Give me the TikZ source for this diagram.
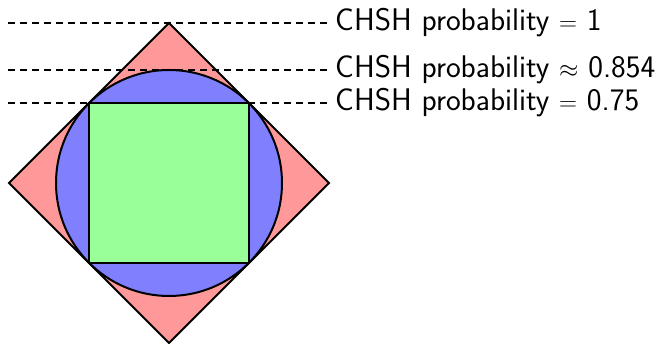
\documentclass[tikz,border=0pt]{standalone}
\begin{document}
\begin{tikzpicture}[x=1pt,y=1pt,
  shape outline/.style={draw=black,line width=2pt,line join=miter},
  guide/.style={draw=black,line width=2pt,dash pattern=on 6.5pt off 5.5pt},
  lbl/.style={anchor=west,inner sep=4pt,font=\fontsize{31.3}{36}\selectfont\sffamily}]
\useasboundingbox (0,0) rectangle (662,344);
\coordinate (c) at (169,161);
\filldraw[shape outline,fill=red!40] (169,321) -- (329,161) -- (169,1) -- (9,161) -- cycle;
\filldraw[shape outline,fill=blue!50] (c) circle (113);
\filldraw[shape outline,fill=green!40] (89,81) rectangle (249,241);
\node[lbl] (l1) at (331,321) {CHSH probability $=$ 1};
\node[lbl] (l2) at (331,274) {CHSH probability $\approx$ 0.854};
\node[lbl] (l3) at (331,241) {CHSH probability $=$ 0.75};
\coordinate (s1) at (8,321);
\coordinate (s2) at (8,274);
\coordinate (s3) at (8,241);
\draw[guide] (s1) -- (l1.west);
\draw[guide] (s2) -- (l2.west);
\draw[guide] (s3) -- (l3.west);
\end{tikzpicture}
\end{document}
